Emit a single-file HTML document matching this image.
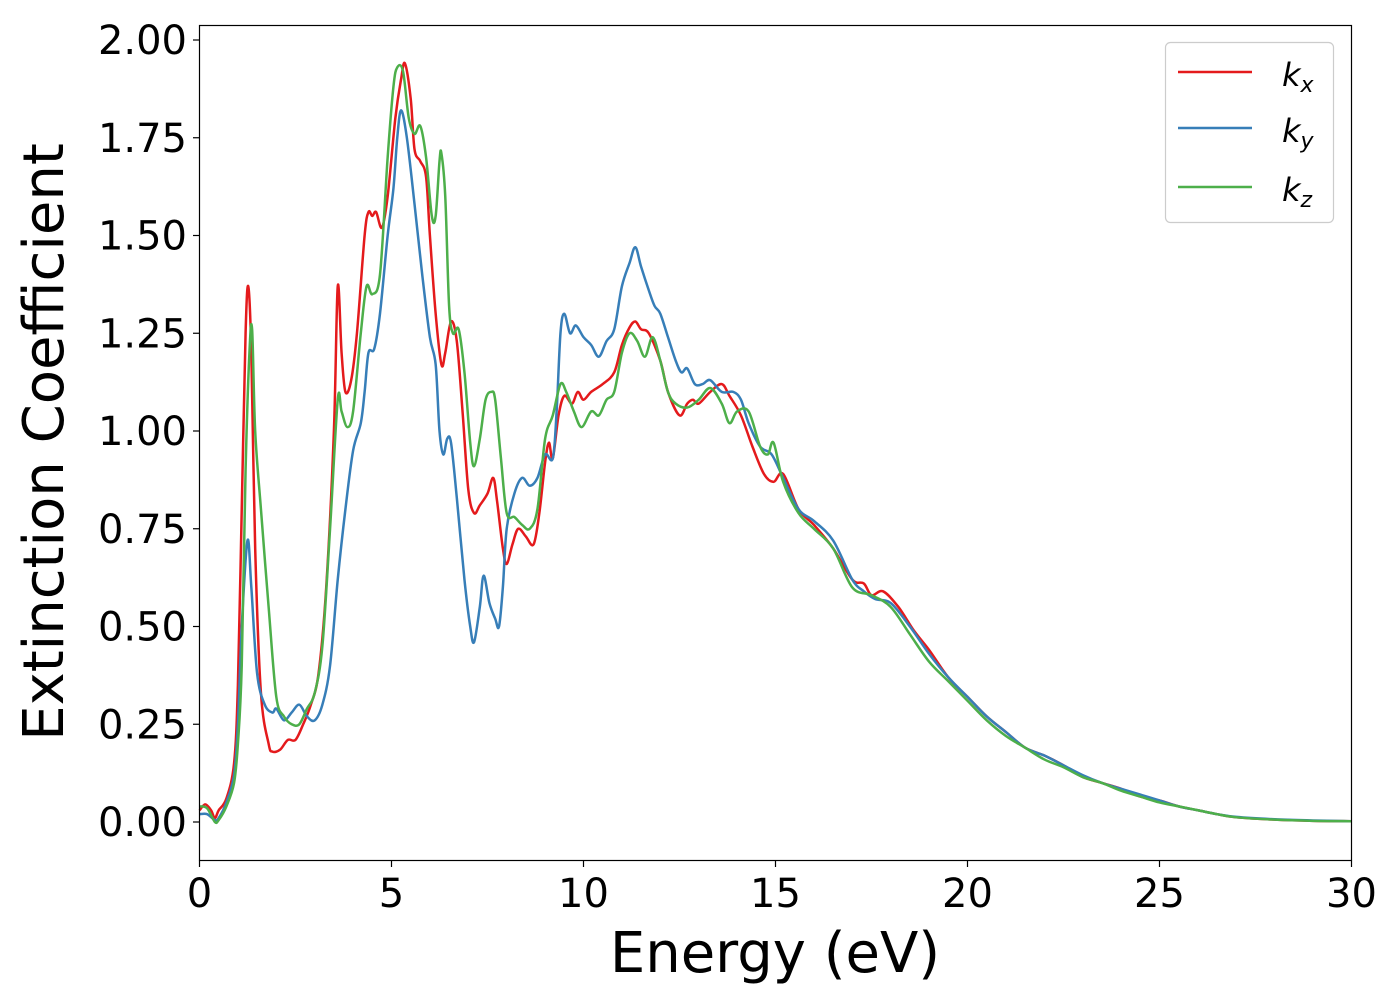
<!DOCTYPE html>
<html><head><meta charset="utf-8"><style>
html,body{margin:0;padding:0;background:#fff;}
svg{display:block;font-family:"DejaVu Sans","Liberation Sans",sans-serif;}
</style></head><body>
<svg id="chart" width="1400" height="1000" viewBox="0 0 1400 1000" xmlns="http://www.w3.org/2000/svg">
<rect x="0" y="0" width="1400" height="1000" fill="#fff"/>
<g id="series"></g>
<rect x="199.5" y="25.5" width="1152" height="835" fill="none" stroke="#000" stroke-width="1.2"/>
<g id="xticks"></g>
<g id="yticks"></g>
<text x="775" y="972" font-size="56" text-anchor="middle">Energy (eV)</text>
<text transform="translate(63,442) rotate(-90)" font-size="56" text-anchor="middle">Extinction Coefficient</text>
<g>
<rect x="1165.5" y="42.5" width="168" height="180" rx="5" fill="#fff" fill-opacity="0.8" stroke="#ccc" stroke-width="1.2"/>
<line x1="1178" y1="72" x2="1252" y2="72" stroke="#e41a1c" stroke-width="2.5"/>
<text x="1282" y="86" font-size="32" font-style="italic">k<tspan font-size="22" dy="6">x</tspan></text>
<line x1="1178" y1="128" x2="1252" y2="128" stroke="#377eb8" stroke-width="2.5"/>
<text x="1282" y="142" font-size="32" font-style="italic">k<tspan font-size="22" dy="6">y</tspan></text>
<line x1="1178" y1="187" x2="1252" y2="187" stroke="#4daf4a" stroke-width="2.5"/>
<text x="1282" y="201" font-size="32" font-style="italic">k<tspan font-size="22" dy="6">z</tspan></text>
</g>
</svg>
<script>
const xTickValues=[0,5,10,15,20,25,30];
const yTickValues=[0,0.25,0.5,0.75,1.0,1.25,1.5,1.75,2.0];
const kxE=[0,0.15,0.3,0.4,0.5,0.7,0.9,1.0,1.1,1.2,1.27,1.35,1.45,1.6,1.8,1.9,2.1,2.3,2.5,2.7,2.9,3.1,3.3,3.5,3.6,3.7,3.8,3.95,4.1,4.3,4.4,4.5,4.6,4.75,4.9,5.1,5.25,5.35,5.5,5.6,5.75,5.9,6.0,6.15,6.3,6.4,6.55,6.7,6.85,7.0,7.15,7.3,7.5,7.65,7.75,7.9,8.0,8.15,8.3,8.5,8.7,8.85,9.0,9.1,9.2,9.35,9.5,9.7,9.85,10.0,10.2,10.5,10.8,11.0,11.2,11.35,11.5,11.7,12.0,12.2,12.5,12.7,12.85,13.0,13.3,13.6,13.8,14.1,14.4,14.7,14.95,15.2,15.6,16.0,16.5,17.0,17.3,17.5,17.8,18.2,18.6,19.0,19.5,20.0,20.5,21.0,21.5,22.0,22.5,23.0,23.5,24.0,24.5,25.0,25.5,26.0,26.5,27,28,29,30];
const kxV=[0.03,0.045,0.03,0.01,0.03,0.06,0.15,0.35,0.8,1.25,1.37,1.2,0.7,0.33,0.2,0.18,0.185,0.21,0.21,0.25,0.3,0.38,0.6,1.0,1.37,1.2,1.1,1.13,1.25,1.5,1.56,1.55,1.56,1.52,1.6,1.8,1.9,1.94,1.85,1.72,1.69,1.65,1.5,1.3,1.17,1.2,1.28,1.23,1.05,0.85,0.79,0.81,0.84,0.88,0.82,0.7,0.66,0.71,0.75,0.73,0.71,0.79,0.92,0.97,0.93,1.04,1.09,1.07,1.1,1.08,1.1,1.12,1.15,1.22,1.265,1.28,1.26,1.25,1.18,1.1,1.04,1.07,1.08,1.07,1.1,1.12,1.09,1.04,0.96,0.89,0.87,0.89,0.8,0.76,0.7,0.62,0.61,0.58,0.59,0.55,0.49,0.44,0.37,0.32,0.27,0.23,0.19,0.17,0.145,0.115,0.1,0.085,0.065,0.055,0.04,0.03,0.02,0.012,0.006,0.003,0.002];
const kyE=[0,0.2,0.4,0.5,0.7,0.9,1.0,1.1,1.25,1.35,1.5,1.7,1.9,2.0,2.2,2.4,2.6,2.8,3.0,3.2,3.4,3.6,3.8,4.0,4.2,4.3,4.4,4.55,4.7,4.9,5.05,5.15,5.25,5.4,5.6,5.8,6.0,6.15,6.25,6.35,6.45,6.55,6.7,6.9,7.05,7.15,7.3,7.4,7.55,7.7,7.8,7.9,8.0,8.2,8.4,8.6,8.8,9.0,9.2,9.3,9.4,9.5,9.65,9.8,10.0,10.2,10.4,10.6,10.8,11.0,11.2,11.35,11.5,11.7,11.85,12.0,12.2,12.4,12.55,12.7,12.9,13.1,13.3,13.6,13.9,14.1,14.3,14.6,14.9,15.2,15.6,16.0,16.5,17.0,17.3,17.6,18.0,18.5,19.0,19.5,20.0,20.5,21.0,21.5,22.0,22.5,23.0,23.5,24,24.5,25,25.5,26,26.5,27,28,29,30];
const kyV=[0.02,0.02,0.005,0.01,0.05,0.12,0.25,0.5,0.72,0.6,0.38,0.3,0.28,0.29,0.26,0.28,0.3,0.27,0.26,0.3,0.4,0.62,0.8,0.95,1.02,1.1,1.2,1.21,1.3,1.5,1.62,1.75,1.82,1.75,1.58,1.4,1.24,1.17,1.0,0.94,0.98,0.97,0.83,0.62,0.5,0.46,0.55,0.63,0.56,0.52,0.5,0.6,0.75,0.84,0.88,0.86,0.88,0.94,0.93,1.05,1.25,1.3,1.25,1.27,1.24,1.22,1.19,1.23,1.26,1.37,1.43,1.47,1.42,1.36,1.32,1.3,1.24,1.18,1.15,1.16,1.12,1.12,1.13,1.1,1.1,1.08,1.02,0.96,0.94,0.88,0.8,0.77,0.72,0.62,0.59,0.57,0.56,0.5,0.43,0.37,0.32,0.27,0.23,0.19,0.17,0.145,0.12,0.1,0.085,0.07,0.055,0.04,0.03,0.02,0.013,0.007,0.004,0.002];
const kzE=[0,0.2,0.4,0.5,0.7,0.9,1.0,1.1,1.2,1.3,1.37,1.45,1.6,1.8,2.0,2.2,2.4,2.6,2.8,3.0,3.2,3.4,3.6,3.7,3.85,4.0,4.2,4.35,4.5,4.7,4.9,5.05,5.15,5.3,5.45,5.6,5.75,5.9,6.05,6.15,6.25,6.3,6.4,6.5,6.6,6.75,6.9,7.05,7.15,7.3,7.45,7.6,7.7,7.85,8.0,8.2,8.4,8.6,8.8,9.0,9.2,9.4,9.55,9.75,9.95,10.2,10.4,10.6,10.8,11.0,11.2,11.4,11.6,11.8,12.0,12.2,12.4,12.7,13.0,13.3,13.6,13.8,14.0,14.3,14.6,14.8,14.95,15.2,15.6,16.0,16.5,17.0,17.5,18.0,18.5,19.0,19.5,20.0,20.5,21.0,21.5,22.0,22.5,23.0,23.5,24,24.5,25,25.5,26,26.5,27,28,29,30];
const kzV=[0.04,0.035,0.0,0.005,0.04,0.1,0.2,0.4,0.9,1.2,1.26,1.0,0.8,0.55,0.32,0.27,0.25,0.25,0.29,0.33,0.45,0.75,1.08,1.05,1.01,1.05,1.25,1.37,1.35,1.4,1.7,1.88,1.93,1.92,1.8,1.76,1.78,1.7,1.55,1.55,1.69,1.71,1.6,1.32,1.25,1.26,1.15,0.97,0.91,0.98,1.08,1.1,1.08,0.93,0.79,0.78,0.76,0.75,0.8,0.98,1.04,1.12,1.1,1.05,1.01,1.05,1.04,1.08,1.1,1.2,1.25,1.23,1.19,1.24,1.18,1.1,1.07,1.06,1.08,1.11,1.07,1.02,1.05,1.05,0.96,0.94,0.97,0.87,0.79,0.75,0.7,0.6,0.58,0.55,0.48,0.41,0.36,0.31,0.26,0.22,0.19,0.16,0.14,0.115,0.1,0.08,0.065,0.05,0.04,0.03,0.02,0.012,0.006,0.003,0.002];

const NS='http://www.w3.org/2000/svg';
const X0=199.5,X1=1351.5,Y0=822,Y2=40;
function xs(v){return X0+(v-0)/(30-0)*(X1-X0);}
function ys(v){return Y0+(v-0)/(2-0)*(Y2-Y0);}
function mk(tag,attrs,parent){const e=document.createElementNS(NS,tag);for(const k in attrs)e.setAttribute(k,attrs[k]);parent.appendChild(e);return e;}
function pathFrom(E,V){
  const p=E.map((e,i)=>[xs(e),ys(V[i])]);
  let d='M'+p[0][0].toFixed(2)+','+p[0][1].toFixed(2);
  for(let i=0;i<p.length-1;i++){
    const a=p[i>0?i-1:i],b=p[i],c=p[i+1],n=p[i+2<p.length?i+2:i+1];
    const c1x=b[0]+(c[0]-a[0])/6,c1y=b[1]+(c[1]-a[1])/6;
    const c2x=c[0]-(n[0]-b[0])/6,c2y=c[1]-(n[1]-b[1])/6;
    d+='C'+c1x.toFixed(2)+','+c1y.toFixed(2)+' '+c2x.toFixed(2)+','+c2y.toFixed(2)+' '+c[0].toFixed(2)+','+c[1].toFixed(2);
  }
  return d;
}
const sg=document.getElementById('series');
const defs=[[kzE,kzV,'#4daf4a','series-kz'],[kyE,kyV,'#377eb8','series-ky'],[kxE,kxV,'#e41a1c','series-kx']];
// draw order: kx, ky, kz (kz on top like matplotlib)
[[kxE,kxV,'#e41a1c','series-kx'],[kyE,kyV,'#377eb8','series-ky'],[kzE,kzV,'#4daf4a','series-kz']].forEach(s=>{
  const el=mk('path',{d:pathFrom(s[0],s[1]),fill:'none',stroke:s[2],'stroke-width':2.5,'stroke-linejoin':'round'},sg);
  
  
});
const xg=document.getElementById('xticks');
xTickValues.forEach(v=>{
  const t=mk('line',{x1:xs(v),x2:xs(v),y1:860.5,y2:867,stroke:'#000','stroke-width':1.2},xg);
  
  
  const l=mk('text',{x:xs(v),y:907,'font-size':40,'text-anchor':'middle'},xg);
  l.textContent=String(v);
  
  
});
const yg=document.getElementById('yticks');
yTickValues.forEach(v=>{
  const t=mk('line',{x1:193,x2:199.5,y1:ys(v),y2:ys(v),stroke:'#000','stroke-width':1.2},yg);
  
  
  const l=mk('text',{x:187,y:ys(v)+14,'font-size':40,'text-anchor':'end'},yg);
  l.textContent=v.toFixed(2);
  
  
});
</script>
</body></html>
